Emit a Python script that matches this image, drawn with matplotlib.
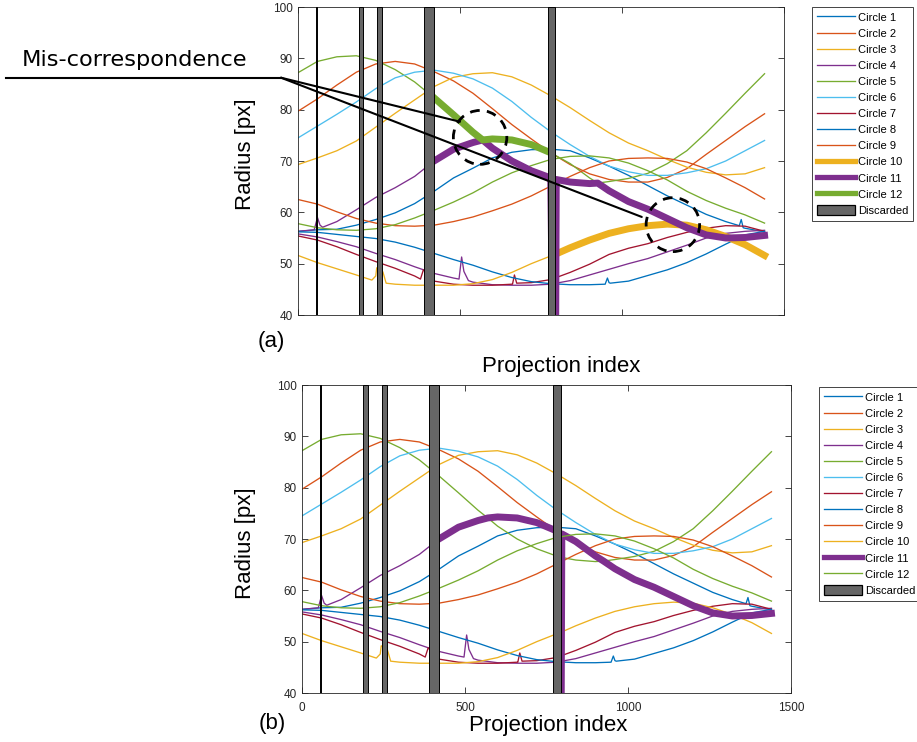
import numpy as np
import matplotlib
matplotlib.use('Agg')
from matplotlib import pyplot
from matplotlib.patches import Ellipse, Patch
from matplotlib.lines import Line2D

PROJ = np.arange(0, 1441, 60)

# radius [px] of each physical circle track, read at PROJ
B1  = [56.3, 56.6, 56.7, 57.5, 58.6, 59.9, 61.7, 64.1, 66.7, 68.6, 70.6, 71.7, 72.2, 72.3, 72.0, 70.6, 69.0, 67.2, 65.2, 63.2, 61.4, 59.6, 58.2, 56.9, 56.2]
O2  = [79.7, 82.1, 84.8, 87.3, 88.9, 89.4, 88.9, 87.4, 85.6, 83.2, 80.2, 77.1, 74.3, 71.6, 69.3, 67.5, 66.4, 65.9, 65.9, 66.8, 68.5, 71.3, 74.0, 76.7, 79.2]
Y3  = [69.3, 70.6, 72.0, 73.9, 76.6, 79.3, 81.9, 84.5, 86.3, 87.0, 87.2, 86.4, 84.8, 82.7, 80.4, 77.9, 75.5, 73.5, 72.0, 70.3, 68.8, 67.8, 67.3, 67.5, 68.7]
PD  = [55.8, 55.2, 54.3, 53.3, 52.0, 50.8, 49.4, 48.1, 47.2, 46.4, 45.9, 45.8, 45.8, 46.0, 46.7, 47.8, 48.9, 50.0, 51.0, 52.3, 53.6, 55.0, 55.9, 56.3, 56.5]
G5  = [87.2, 89.4, 90.3, 90.5, 89.6, 87.8, 85.4, 82.3, 79.0, 75.6, 72.5, 70.0, 68.1, 66.7, 65.9, 65.6, 66.0, 66.6, 67.6, 69.5, 72.0, 75.5, 79.3, 83.2, 87.0]
C6  = [74.5, 76.8, 79.1, 81.5, 84.1, 86.2, 87.3, 87.7, 87.1, 86.0, 84.2, 81.6, 78.5, 75.7, 73.2, 70.9, 69.0, 67.9, 67.2, 67.2, 67.7, 68.5, 70.0, 72.0, 74.0]
M7  = [55.4, 54.6, 53.3, 51.8, 50.4, 49.1, 47.6, 46.6, 46.0, 45.8, 45.8, 46.0, 46.3, 46.9, 48.3, 49.9, 51.8, 53.0, 53.9, 55.1, 56.1, 56.9, 57.4, 57.3, 56.3]
B8  = [56.2, 56.1, 55.7, 55.3, 54.9, 54.2, 53.2, 52.0, 50.8, 49.7, 48.4, 47.3, 46.5, 46.1, 45.9, 45.9, 46.3, 46.6, 47.7, 48.8, 50.2, 51.9, 53.8, 55.6, 56.3]
O9  = [62.5, 61.6, 60.1, 58.8, 57.9, 57.4, 57.3, 57.5, 58.2, 59.1, 60.3, 61.6, 63.2, 65.1, 67.0, 68.7, 70.0, 70.5, 70.6, 70.5, 69.8, 68.5, 66.7, 64.8, 62.6]
Y10 = [51.6, 50.2, 49.0, 47.8, 47.6, 46.0, 45.8, 45.8, 45.8, 46.1, 46.9, 48.3, 50.0, 51.5, 53.1, 54.6, 55.9, 56.8, 57.4, 57.7, 57.5, 56.6, 55.3, 53.7, 51.6]
P4  = [56.3, 59.0, 58.2, 60.5, 62.9, 64.8, 67.0, 70.0, 72.3, 73.6, 74.3, 74.1, 73.2, 71.6, 69.5, 66.7, 64.2, 62.1, 60.6, 58.8, 57.0, 55.6, 55.0, 55.1, 55.5]
G12 = [57.8, 57.0, 56.6, 56.5, 56.8, 57.6, 58.9, 60.4, 62.0, 63.8, 65.9, 67.7, 69.1, 70.3, 70.9, 71.0, 70.6, 69.6, 68.1, 66.3, 64.1, 62.3, 60.8, 59.5, 57.9]

# extra readings: spikes, crossings, first value after the last gap
B1_X,  B1_Y  = [1362, 1368, 1374], [57.4, 58.6, 57.0]
B8_X,  B8_Y  = [948, 955, 964], [46.0, 47.2, 46.2]
PD_X,  PD_Y  = [497, 505, 512, 526], [47.0, 51.3, 48.5, 46.7]
M7_X,  M7_Y  = [378, 387, 662, 668, 675], [47.0, 48.8, 46.0, 47.8, 46.2]
Y10_X, Y10_Y = [228, 243, 262, 272, 797], [46.8, 49.2, 48.4, 46.2, 51.9]
G5_X,  G5_Y  = [570, 797, 925], [74.1, 66.4, 65.7]
P4_X,  P4_Y  = [50, 68, 76, 570, 797, 925], [56.6, 57.5, 57.1, 74.1, 71.0, 65.7]

DISCARDED = [(56, 59), (188, 202), (245, 260), (390, 420), (771, 794)]
SWAP = [570, 925]                      # tracker swapped circles here in (a)
MISMATCH = [(562, 74.6), (1157, 57.6)]  # circled regions in (a)
LABELS = ['Circle %d' % (i + 1) for i in range(12)] + ['Discarded']

COL = ['#0072BD', '#D95319', '#EDB120', '#7E2F8E', '#77AC30', '#4DBEEE', '#A2142F']
GREY = '#262626'
THIN, THICK = 0.95, 5.0

pyplot.rcParams['font.family'] = 'Liberation Sans'


def track(y, xs=(), ys=()):
	x = np.r_[PROJ, xs]
	v = np.r_[y, ys]
	o = np.argsort(x, kind='stable')
	return x[o], v[o]


def seg(p, x0, x1):
	m = (p[0] >= x0) & (p[0] <= x1)
	return p[0][m], p[1][m]


def join(*parts, drop=None):
	x = np.concatenate([p[0] for p in parts])
	y = np.concatenate([p[1] for p in parts])
	if drop is not None:
		x, y = np.r_[x, drop], np.r_[y, 0]
	o = np.argsort(x, kind='stable')
	return x[o], y[o]


b1, o2, y3, pd_, g5 = track(B1, B1_X, B1_Y), track(O2), track(Y3), track(PD, PD_X, PD_Y), track(G5, G5_X, G5_Y)
c6, m7, b8, o9 = track(C6), track(M7, M7_X, M7_Y), track(B8, B8_X, B8_Y), track(O9)
y10, p4, g12 = track(Y10, Y10_X, Y10_Y), track(P4, P4_X, P4_Y), track(G12)
gap0, gap1 = DISCARDED[3][1], DISCARDED[4][1]
drop = gap1 - 1

# (a): as tracked, with mis-correspondences
TOP = [
	(b1, 0, THIN), (o2, 1, THIN), (y3, 2, THIN), (pd_, 3, THIN), (seg(p4, 0, gap0), 3, THIN),
	(seg(g5, 0, gap0), 4, THIN), (join(seg(p4, 780, SWAP[1]), seg(g5, SWAP[1], 1440)), 4, THIN),
	(c6, 5, THIN), (m7, 6, THIN), (b8, 0, THIN), (o9, 1, THIN), (g12, 4, THIN),
	(seg(y10, 0, 780), 2, THIN),
	(seg(y10, 797, 1440), 2, THICK),
	(join(seg(p4, gap0, SWAP[0]), seg(g5, SWAP[0], SWAP[1]), seg(p4, SWAP[1], 1440), drop=drop), 3, THICK),
	(join(seg(g5, gap0, SWAP[0]), seg(p4, SWAP[0], 780)), 4, THICK),
]
# (b): corrected
BOT = [
	(b1, 0, THIN), (o2, 1, THIN), (y3, 2, THIN), (pd_, 3, THIN), (seg(p4, 0, gap0), 3, THIN),
	(g5, 4, THIN), (c6, 5, THIN), (m7, 6, THIN), (b8, 0, THIN), (o9, 1, THIN), (y10, 2, THIN),
	(join(seg(p4, gap0, 1440), drop=drop), 3, THICK),
	(g12, 4, THIN),
]
LEG_COL = [0, 1, 2, 3, 4, 5, 6, 0, 1, 2, 3, 4]
LEG_TOP = [THIN] * 9 + [THICK] * 3
LEG_BOT = [THIN] * 10 + [THICK] + [THIN]

pyplot.close('all')
fig = pyplot.figure(figsize=(9.17, 7.42), dpi=100)
axA = fig.add_axes([298 / 917, 1 - 315 / 742, 486 / 917, 308 / 742])
axB = fig.add_axes([302 / 917, 1 - 693 / 742, 489 / 917, 308 / 742])

for ax, lines in [(axA, TOP), (axB, BOT)]:
	for (x, y), ci, lw in lines:
		ax.plot(x, y, color=COL[ci], lw=lw, solid_joinstyle='round')
	for a, b in DISCARDED:
		ax.axvspan(a, b, facecolor='#666666', edgecolor='k', lw=0.7, zorder=10)
	ax.set_xlim(0, 1500)
	ax.set_ylim(40, 100)
	ax.set_xticks([0, 500, 1000, 1500])
	ax.set_yticks(range(40, 101, 10))
	ax.tick_params(direction='in', length=4, width=0.6, top=True, right=True, labelsize=8.5, colors=GREY)
	ax.tick_params(axis='y', pad=4)
	ax.tick_params(axis='x', pad=6.5)
	for s in ax.spines.values():
		s.set_color(GREY)
		s.set_linewidth(0.6)
axA.tick_params(labelbottom=False)

# mis-correspondence marks
for xy in MISMATCH:
	axA.add_patch(Ellipse(xy, 165, 10.5, fill=False, ec='k', lw=2, ls=(0, (3.5, 2.6)), zorder=12))
start = (281 / 917, 1 - 77.7 / 742)
for xy in [(500, 77.65), (1061, 59.1)]:
	axA.annotate('', xy=xy, xycoords='data', xytext=start, textcoords='figure fraction',
		arrowprops=dict(arrowstyle='-', lw=1.5, color='k', shrinkA=0, shrinkB=0), annotation_clip=False, zorder=12)
fig.add_artist(Line2D([6 / 917, start[0]], [start[1], start[1]], transform=fig.transFigure, color='k', lw=1.5))
fig.text(22 / 917, 1 - 66 / 742, 'Mis-correspondence', family='DejaVu Sans', fontsize=16.2, va='baseline')

# labels
fig.text(246 / 917, 1 - 154 / 742, 'Radius [px]', rotation=90, ha='center', va='center', fontsize=16)
fig.text(246 / 917, 1 - 543 / 742, 'Radius [px]', rotation=90, ha='center', va='center', fontsize=16)
fig.text(561 / 917, 1 - 366 / 742, 'Projection index', ha='center', va='center', fontsize=16)
fig.text(548 / 917, 1 - 725 / 742, 'Projection index', ha='center', va='center', fontsize=16)
fig.text(271 / 917, 1 - 341 / 742, '(a)', ha='center', va='center', fontsize=16)
fig.text(272 / 917, 1 - 723 / 742, '(b)', ha='center', va='center', fontsize=16)

# legends
for widths, x0, y0 in [(LEG_TOP, 812 / 917, 1 - 7 / 742), (LEG_BOT, 819 / 917, 1 - 387 / 742)]:
	handles = [Line2D([], [], color=COL[c], lw=min(w, 3.8)) for c, w in zip(LEG_COL, widths)]
	handles.append(Patch(facecolor='#666666', edgecolor='k', lw=0.9))
	leg = fig.legend(handles=handles, labels=LABELS, loc='upper left', bbox_to_anchor=(x0, y0),
		bbox_transform=fig.transFigure, prop={'family': 'Liberation Sans', 'size': 8},
		frameon=True, fancybox=False, framealpha=1, edgecolor=GREY, borderpad=0.45,
		labelspacing=0.46, handlelength=3.4, handletextpad=0.3, handleheight=1.05, borderaxespad=0)
	leg.get_frame().set_linewidth(0.6)

pyplot.savefig('out.png', dpi=100)
